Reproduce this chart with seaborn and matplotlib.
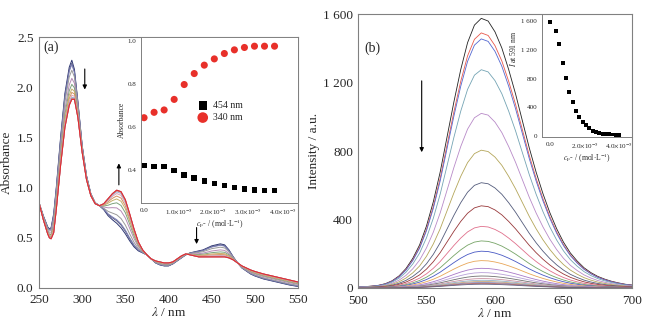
import numpy as np
import pandas as pd
import seaborn as sns
import matplotlib.pyplot as plt

sns.set_style("white")
plt.rcParams['font.family'] = ['Liberation Serif', 'DejaVu Serif']
plt.rcParams['mathtext.fontset'] = 'stix'

# ---- panel (a): UV-vis titration, first and last spectra
wl_a = [250, 255, 260, 262, 264, 267, 270, 275, 280, 285, 288, 291, 295, 300, 305, 310, 315, 320,
        325, 330, 335, 340, 345, 350, 355, 360, 365, 370, 375, 380, 385, 390, 395, 400, 405, 410,
        415, 420, 425, 430, 435, 440, 445, 450, 455, 460, 465, 470, 475, 480, 485, 490, 495, 500,
        510, 520, 530, 540, 550]
abs_first = [0.85, 0.72, 0.61, 0.59, 0.60, 0.74, 1.00, 1.50, 1.94, 2.20, 2.27, 2.18, 1.86, 1.42,
             1.12, 0.94, 0.85, 0.82, 0.78, 0.72, 0.68, 0.645, 0.60, 0.54, 0.47, 0.41, 0.37, 0.35,
             0.33, 0.29, 0.25, 0.23, 0.22, 0.22, 0.24, 0.27, 0.30, 0.33, 0.35, 0.36, 0.37, 0.38,
             0.40, 0.42, 0.43, 0.44, 0.43, 0.38, 0.31, 0.25, 0.20, 0.17, 0.14, 0.12, 0.09, 0.07,
             0.05, 0.03, 0.015]
abs_last = [0.85, 0.68, 0.54, 0.50, 0.49, 0.55, 0.78, 1.22, 1.60, 1.82, 1.88, 1.88, 1.70, 1.35,
            1.08, 0.92, 0.84, 0.82, 0.84, 0.89, 0.94, 0.975, 0.96, 0.88, 0.74, 0.59, 0.46, 0.38,
            0.33, 0.29, 0.27, 0.26, 0.25, 0.25, 0.26, 0.29, 0.32, 0.34, 0.33, 0.32, 0.31, 0.31,
            0.31, 0.31, 0.31, 0.31, 0.31, 0.30, 0.28, 0.25, 0.22, 0.20, 0.18, 0.165, 0.14, 0.12,
            0.10, 0.08, 0.06]

# inset (a)
conc_a = [0, 0.29, 0.58, 0.87, 1.16, 1.45, 1.74, 2.03, 2.32, 2.61, 2.90, 3.19, 3.48, 3.77]  # x1e-5
abs_340 = [0.645, 0.67, 0.681, 0.73, 0.799, 0.85, 0.889, 0.918, 0.943, 0.96, 0.971, 0.977, 0.977, 0.977]
abs_454 = [0.423, 0.419, 0.419, 0.40, 0.38, 0.364, 0.351, 0.339, 0.33, 0.32, 0.313, 0.31, 0.308, 0.307]

colors_a = ['#2f3874', '#55577a', '#7c7fb8', '#9a9a9a', '#b58ab5', '#7ea27e', '#c6b06c',
            '#d39462', '#dfa2b4', '#9cb2d2', '#c27474', '#a48cc4', '#e38080', '#e0282a']

# ---- panel (b): emission spectra, normalised band shape and peak heights
wl_b = list(range(500, 701, 5))
band_b = [0.004, 0.005, 0.007, 0.010, 0.016, 0.027, 0.045, 0.072, 0.11, 0.16, 0.23, 0.32, 0.43,
          0.56, 0.69, 0.81, 0.91, 0.975, 1.0, 0.99, 0.95, 0.89, 0.81, 0.72, 0.62, 0.52, 0.43,
          0.35, 0.28, 0.22, 0.17, 0.13, 0.10, 0.075, 0.057, 0.043, 0.033, 0.025, 0.019, 0.014, 0.011]
peaks_b = [1575, 1490, 1455, 1275, 1020, 805, 615, 480, 360, 275, 215, 160, 115, 90, 70, 55,
           45, 38, 32, 27, 22]
colors_b = ['#222222', '#e8584c', '#5468d0', '#74a4b4', '#b88ac8', '#b4a65a', '#545c7c',
            '#98383a', '#e0708c', '#76a466', '#4858c4', '#e8a658', '#a878c8', '#b8a0d8',
            '#707070', '#c890a0', '#90b0c8', '#c8a878', '#8888b8', '#b06060', '#606080']

# inset (b)
conc_b = [0, 0.36, 0.55, 0.74, 0.93, 1.12, 1.31, 1.50, 1.70, 1.90, 2.08, 2.28, 2.47, 2.67,
          2.86, 3.05, 3.24, 3.44, 3.63, 3.82, 4.0]  # x1e-5
int_591 = [1582, 1461, 1280, 1016, 807, 608, 473, 352, 264, 199, 149, 107, 74, 51, 42, 32,
           28, 23, 21, 20, 20]

# build long tables
frac = (np.array(abs_340) - abs_340[0]) / (abs_340[-1] - abs_340[0])
rows = []
for i, f in enumerate(frac):
    spec = np.array(abs_first) + f * (np.array(abs_last) - np.array(abs_first))
    for w, v in zip(wl_a, spec):
        rows.append((w, v, f's{i:02d}'))
df_a = pd.DataFrame(rows, columns=['wl', 'A', 'step'])

rows = []
for i, p in enumerate(peaks_b):
    for w, v in zip(wl_b, band_b):
        rows.append((w, v * p, f's{i:02d}'))
df_b = pd.DataFrame(rows, columns=['wl', 'I', 'step'])

spine_col = '#808080'


def style_axes(ax, size, lw=0.8, pad=1.5):
    for s in ax.spines.values():
        s.set_color(spine_col)
        s.set_linewidth(lw)
    ax.tick_params(direction='out', length=2.5, width=0.6, color=spine_col,
                   labelsize=size, pad=pad)


fig = plt.figure(figsize=(6.47, 3.2), dpi=100)

# ---------------- (a)
ax_a = fig.add_axes([0.0603, 0.1, 0.4003, 0.784])
sns.lineplot(data=df_a, x='wl', y='A', hue='step', palette=colors_a, hue_order=sorted(df_a.step.unique()),
             lw=0.7, legend=False, sort=False, ax=ax_a)
ax_a.set_xlim(250, 550)
ax_a.set_ylim(0, 2.5)
ax_a.set_xticks(range(250, 551, 50))
ax_a.set_yticks([0, 0.5, 1.0, 1.5, 2.0, 2.5])
ax_a.set_yticklabels(['0.0', '0.5', '1.0', '1.5', '2.0', '2.5'])
ax_a.set_xlabel(r'$\lambda$ / nm', fontsize=9.5, labelpad=0)
ax_a.set_ylabel('Absorbance', fontsize=9.5, labelpad=3)
style_axes(ax_a, 9.5)
ax_a.text(264.5, 2.40, '(a)', fontsize=10, ha='center', va='center')
arrow = dict(arrowstyle='-|>', color='k', lw=0.8, mutation_scale=6)
ax_a.annotate('', xy=(303, 1.95), xytext=(303, 2.21), arrowprops=arrow)
ax_a.annotate('', xy=(342.5, 1.27), xytext=(342.5, 1.0), arrowprops=arrow)
ax_a.annotate('', xy=(432.5, 0.41), xytext=(432.5, 0.63), arrowprops=arrow)

# inset (a)
in_a = fig.add_axes([0.218, 0.3656, 0.2427, 0.519])
sns.scatterplot(x=conc_a, y=abs_454, marker='s', color='k', s=16, edgecolor='none',
                label='454 nm', ax=in_a)
sns.scatterplot(x=conc_a, y=abs_340, marker='o', color='#e8302a', s=26, edgecolor='none',
                label='340 nm', ax=in_a)
in_a.set_xlim(-0.087, 4.45)
in_a.set_ylim(0.249, 1.02)
in_a.set_xticks([0, 1, 2, 3, 4])
in_a.set_xticklabels(['0.0'] + [rf'{v}.0$\times$10$^{{-5}}$' for v in (1, 2, 3, 4)])
in_a.set_yticks([0.4, 0.6, 0.8, 1.0])
in_a.set_yticklabels(['0.4', '0.6', '0.8', '1.0'])
in_a.set_xlabel(r'$c_{\mathrm{F}^{-}}$ / (mol$\cdot$L$^{-1}$)', fontsize=5.5, labelpad=0.5)
in_a.set_ylabel('Absorbance', fontsize=5.5, labelpad=1)
style_axes(in_a, 5, lw=0.7, pad=1)
in_a.legend(loc='center left', bbox_to_anchor=(0.3, 0.55), frameon=False, fontsize=7,
            handletextpad=0.1, labelspacing=0.3, markerscale=1.5, borderpad=0)

# ---------------- (b)
ax_b = fig.add_axes([0.5533, 0.1, 0.4235, 0.856])
sns.lineplot(data=df_b, x='wl', y='I', hue='step', palette=colors_b, hue_order=sorted(df_b.step.unique()),
             lw=0.6, legend=False, sort=False, ax=ax_b)
ax_b.set_xlim(500, 700)
ax_b.set_ylim(0, 1600)
ax_b.set_xticks(range(500, 701, 50))
ax_b.set_yticks([0, 400, 800, 1200, 1600])
ax_b.set_yticklabels(['0', '400', '800', '1 200', '1 600'])
ax_b.set_xlabel(r'$\lambda$ / nm', fontsize=9.5, labelpad=0)
ax_b.set_ylabel('Intensity / a.u.', fontsize=9.5, labelpad=2)
style_axes(ax_b, 9.5)
ax_b.tick_params(axis='y', pad=1)
ax_b.tick_params(axis='x', pad=2.5)
ax_b.text(510.4, 1400, '(b)', fontsize=10, ha='center', va='center')
ax_b.annotate('', xy=(546.5, 777), xytext=(546.5, 1226), arrowprops=arrow)

# inset (b)
in_b = fig.add_axes([0.8377, 0.5719, 0.139, 0.384])
sns.scatterplot(x=conc_b, y=int_591, marker='s', color='k', s=8, edgecolor='none', ax=in_b)
in_b.set_xlim(-0.46, 4.75)
in_b.set_ylim(-14, 1697)
in_b.set_xticks([0, 2, 4])
in_b.set_xticklabels(['0.0', r'2.0$\times$10$^{-5}$', r'4.0$\times$10$^{-5}$'])
in_b.set_yticks([0, 400, 800, 1200, 1600])
in_b.set_yticklabels(['0', '400', '800', '1 200', '1 600'])
in_b.set_xlabel(r'$c_{\mathrm{F}^{-}}$ / (mol$\cdot$L$^{-1}$)', fontsize=5.5, labelpad=0.5)
in_b.set_ylabel(r'$I$ at 591 nm', fontsize=5.5)
style_axes(in_b, 5, lw=0.7, pad=1)
in_b.yaxis.set_label_coords(-0.27, 0.72)
in_b.patch.set_alpha(0)

fig.savefig('out.png', dpi=100)
